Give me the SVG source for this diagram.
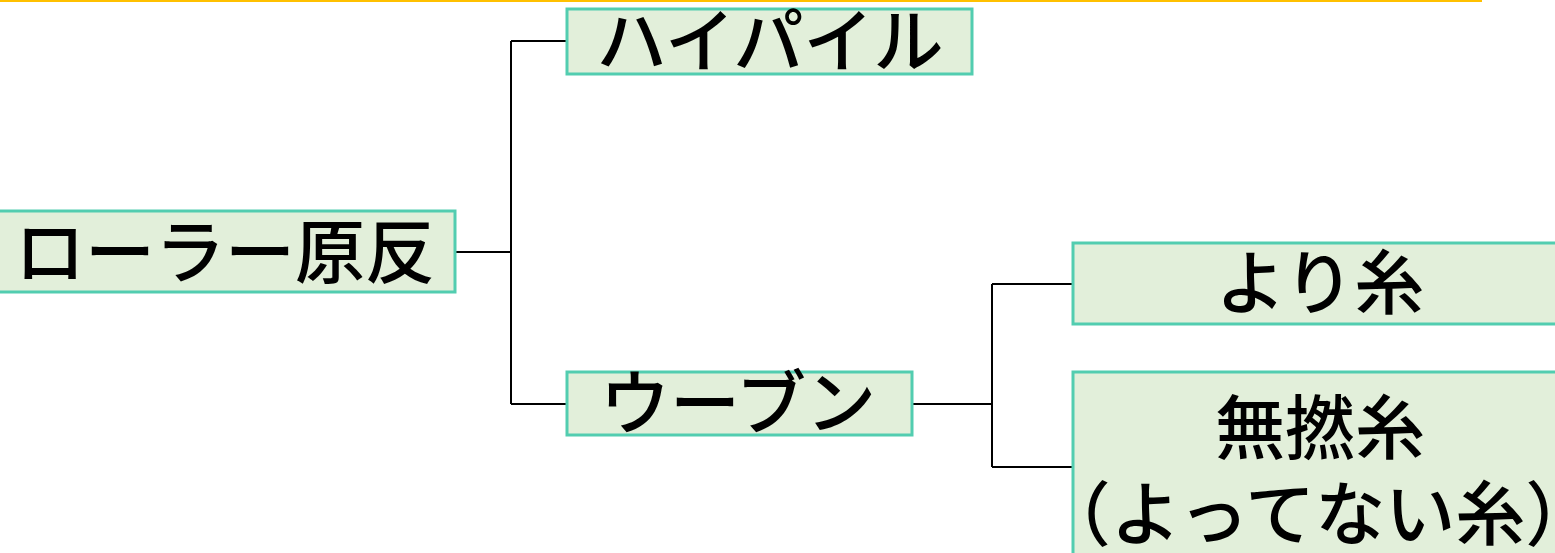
<svg xmlns="http://www.w3.org/2000/svg" width="1555" height="553" viewBox="0 0 1555 553">
<style>
.box{fill:#E2EFDA;stroke:#52CDB0;stroke-width:3}
.t{font-family:"Noto Sans CJK JP","Noto Sans CJK SC",sans-serif;font-size:70px;font-weight:500;fill:#000;text-anchor:middle}
.c{fill:none;stroke:#000;stroke-width:2}
</style>
<rect x="0" y="0" width="1482" height="2" fill="#FFC000"/>
<g id="connectors">
<path class="c" d="M455,252 H511 M511,41 V404 M511,41 H567 M511,404 H567"/>
<path class="c" d="M912,404 H992 M992,284 V467 M992,284 H1073 M992,467 H1073"/>
</g>
<g id="n-roller"><rect class="box" x="-2" y="211" width="457" height="81"/><text class="t" x="225" y="278">ローラー原反</text></g>
<g id="n-highpile"><rect class="box" x="567" y="9" width="405" height="65"/><text class="t" x="770" y="67">ハイパイル</text></g>
<g id="n-woven"><rect class="box" x="567" y="372" width="345" height="63"/><text class="t" x="738" y="429">ウーブン</text></g>
<g id="n-yori"><rect class="box" x="1073" y="243" width="490" height="81"/><text class="t" x="1320" y="309">より糸</text></g>
<g id="n-munen"><rect class="box" x="1073" y="372" width="490" height="190"/><text class="t" x="1320" y="454">無撚糸</text><text class="t" x="1318" y="540">（よってない糸）</text></g>
</svg>
